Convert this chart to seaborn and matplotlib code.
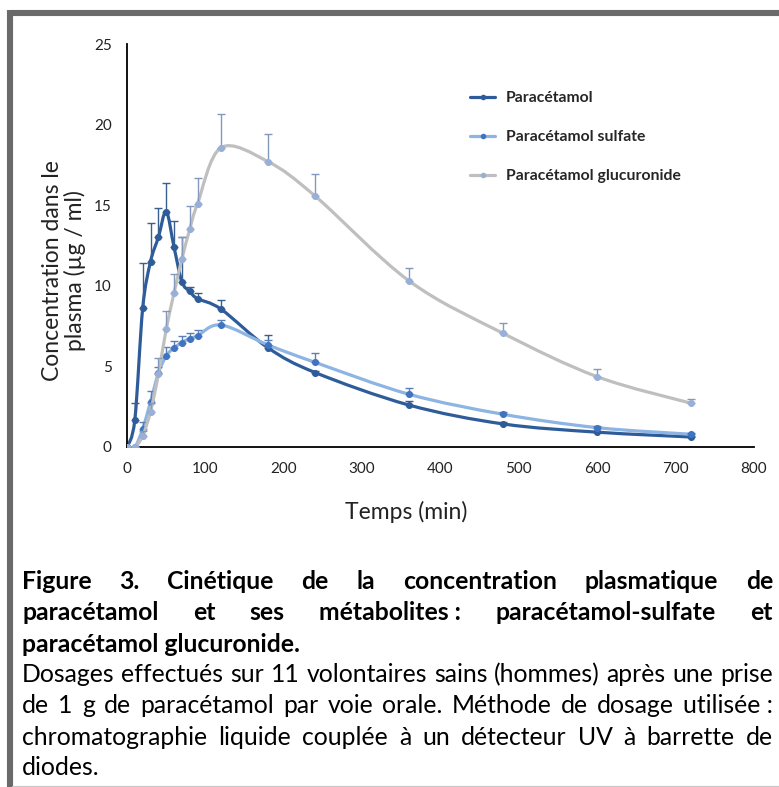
import matplotlib

matplotlib.use("Agg")

import matplotlib.pyplot as plt
import numpy as np
import pandas as pd
import seaborn as sns
from matplotlib.lines import Line2D
from matplotlib.patches import PathPatch
from matplotlib.path import Path

# --- data ---
TIMES = [0, 10, 20, 30, 40, 50, 60, 70, 80, 90, 120, 180, 240, 360, 480, 600, 720]
PARACETAMOL = [0, 1.7, 8.6, 11.5, 13.0, 14.6, 12.4, 10.25, 9.65, 9.2, 8.55, 6.15, 4.62, 2.6, 1.43, 0.92, 0.62]
PARACETAMOL_ERR = [0, 1.0, 2.8, 2.4, 1.85, 1.8, 1.6, 2.8, 0.3, 0.35, 0.6, 0.8, 0.1, 0.23, 0.1, 0.08, 0.05]
SULFATE = [0, 0, 1.12, 2.81, 4.57, 5.65, 6.15, 6.48, 6.73, 6.9, 7.57, 6.33, 5.25, 3.27, 2.03, 1.2, 0.79]
SULFATE_ERR = [0, 0, 0.4, 0.68, 0.4, 0.56, 0.4, 0.4, 0.37, 0.37, 0.3, 0.3, 0.56, 0.37, 0.15, 0.12, 0.1]
GLUCURONIDE = [0, 0, 0.7, 2.2, 4.5, 7.3, 9.55, 11.65, 13.5, 15.1, 18.57, 17.7, 15.57, 10.3, 7.05, 4.36, 2.71]
GLUCURONIDE_ERR = [0, 0, 0.3, 0.5, 1.0, 1.15, 1.2, 1.4, 1.45, 1.6, 2.1, 1.7, 1.36, 0.8, 0.66, 0.48, 0.25]

SERIES_NAMES = ["Paracétamol", "Paracétamol sulfate", "Paracétamol glucuronide"]
X_TICKS = [0, 100, 200, 300, 400, 500, 600, 700, 800]
Y_TICKS = [0, 5, 10, 15, 20, 25]

CAPTION_BOLD = [
    "Figure|3.|Cinétique|de|la|concentration|plasmatique|de",
    "paracétamol|et|ses|métabolites :|paracétamol-sulfate|et",
    "paracétamol glucuronide.",
]
CAPTION_TEXT = [
    "Dosages|effectués|sur|11|volontaires|sains|(hommes)|après|une|prise",
    "de|1|g|de|paracétamol|par|voie|orale.|Méthode|de|dosage|utilisée :",
    "chromatographie|liquide|couplée|à|un|détecteur|UV|à|barrette|de",
    "diodes.",
]

LINE_COLORS = ["#2E5C9A", "#8DB4E2", "#BFBFBF"]
MARKER_COLORS = ["#2E5C9A", "#3F74C0", "#98AFD8"]
ERR_COLORS = ["#3A5F8F", "#5C80B4", "#8497BC"]

W, H = 779, 787


def smooth_path(x, y):
    # Excel-like smoothed line: cubic Bezier through the points
    pts = np.column_stack([x, y]).astype(float)
    n = len(pts)
    verts = [pts[0]]
    codes = [Path.MOVETO]
    for i in range(n - 1):
        p0 = pts[max(i - 1, 0)]
        p1 = pts[i]
        p2 = pts[i + 1]
        p3 = pts[min(i + 2, n - 1)]
        verts += [p1 + (p2 - p0) / 6, p2 - (p3 - p1) / 6, p2]
        codes += [Path.CURVE4] * 3
    return Path(verts, codes)


sns.set_theme(style="white")
plt.rcParams["font.family"] = ["Lato", "DejaVu Sans"]

fig = plt.figure(figsize=(W / 100, H / 100), dpi=100)
ax = fig.add_axes([127 / W, 1 - 447 / H, (754 - 127) / W, (447 - 44) / H])

df = pd.DataFrame({
    "time": TIMES * 3,
    "conc": PARACETAMOL + SULFATE + GLUCURONIDE,
    "err": PARACETAMOL_ERR + SULFATE_ERR + GLUCURONIDE_ERR,
    "series": np.repeat(SERIES_NAMES, len(TIMES)),
})

for k, name in enumerate(SERIES_NAMES):
    sub = df[df["series"] == name]
    z = 2 + 3 * k
    ax.add_patch(PathPatch(smooth_path(sub["time"], sub["conc"]), fill=False,
                           edgecolor=LINE_COLORS[k], linewidth=2.3, zorder=z,
                           capstyle="round", joinstyle="round"))
    ax.errorbar(sub["time"], sub["conc"], yerr=[np.zeros(len(sub)), sub["err"]],
                fmt="none", ecolor=ERR_COLORS[k], elinewidth=1.0, capsize=3,
                capthick=1.0, zorder=z + 1)
    sns.scatterplot(data=sub, x="time", y="conc", color=MARKER_COLORS[k], s=26,
                    edgecolor=MARKER_COLORS[k], linewidth=0, ax=ax, zorder=z + 2,
                    legend=False)

ax.set_xlim(0, 800)
ax.set_ylim(0, 25)
ax.set_xticks(X_TICKS)
ax.set_yticks(Y_TICKS)
ax.tick_params(axis="x", length=0, pad=11, labelsize=11, colors="#222222")
ax.tick_params(axis="y", length=0, pad=11, labelsize=11, colors="#222222")
ax.set_xlabel("")
ax.set_ylabel("")
for side in ["top", "right"]:
    ax.spines[side].set_visible(False)
for side in ["left", "bottom"]:
    ax.spines[side].set_color("black")
    ax.spines[side].set_linewidth(1.3)
ax.patch.set_alpha(0)

handles = [
    Line2D([], [], color=LINE_COLORS[k], linewidth=2.3, marker="o", markersize=4,
           markerfacecolor=MARKER_COLORS[k], markeredgewidth=0)
    for k in range(3)
]
ax.legend(handles, SERIES_NAMES, loc="upper left",
          bbox_to_anchor=(470 / W, 1 - 91 / H), bbox_transform=fig.transFigure,
          frameon=False, borderpad=0, borderaxespad=0, handlelength=1.6,
          handletextpad=0.7, labelspacing=1.6,
          prop={"weight": "bold", "size": 11.3})

fig.text(406 / W, 1 - 512 / H, "Temps (min)", ha="center", va="center",
         fontsize=16.5, color="#222222")
fig.text(64 / W, 1 - 271 / H, "Concentration dans le\nplasma (µg / ml)",
         rotation=90, ha="center", va="center", multialignment="center",
         fontsize=16.5, linespacing=1.1, color="#222222")

# frame around the figure box
fig.add_artist(Line2D([10 / W, 1], [1 - 13 / H] * 2, transform=fig.transFigure,
                      color="#6a6a6a", linewidth=4.4, solid_capstyle="butt"))
fig.add_artist(Line2D([10 / W] * 2, [1 - 10 / H, 0], transform=fig.transFigure,
                      color="#6a6a6a", linewidth=4.4, solid_capstyle="butt"))
fig.add_artist(Line2D([12 / W, 1], [1 / H] * 2, transform=fig.transFigure,
                      color="#c8c8c8", linewidth=0.8))

# justified caption
renderer = fig.canvas.get_renderer()
probe = fig.text(0, 0, " ".join(CAPTION_TEXT[0].split("|")), fontsize=14)
cap_size = 14 * 748 / probe.get_window_extent(renderer).width
probe.remove()

X0, X1 = 22, 773


def caption_line(line, baseline, weight, last=False):
    words = line.split("|")
    if last:
        fig.text(X0 / W, 1 - baseline / H, " ".join(words), fontsize=cap_size,
                 fontweight=weight, va="baseline", ha="left", color="black")
        return
    texts = [fig.text(0, 1 - baseline / H, w, fontsize=cap_size, fontweight=weight,
                      va="baseline", ha="left", color="black") for w in words]
    widths = [t.get_window_extent(renderer).width for t in texts]
    gap = (X1 - X0 - sum(widths)) / (len(words) - 1)
    x = X0
    for t, w in zip(texts, widths):
        t.set_x(x / W)
        x += w + gap


bold_baselines = [589, 620, 652]
text_baselines = [682, 713, 745, 775]
for i, line in enumerate(CAPTION_BOLD):
    caption_line(line, bold_baselines[i], "bold", last=i == len(CAPTION_BOLD) - 1)
for i, line in enumerate(CAPTION_TEXT):
    caption_line(line, text_baselines[i], "normal", last=i == len(CAPTION_TEXT) - 1)

fig.savefig("out.png", dpi=100)
plt.close(fig)
